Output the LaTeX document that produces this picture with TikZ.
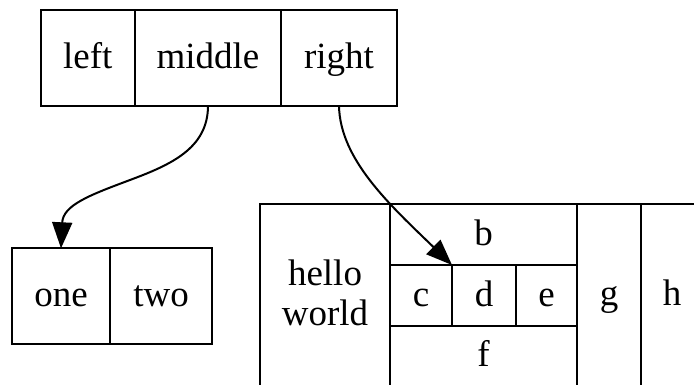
\documentclass[tikz,border=0pt]{standalone}
\usepackage{fontspec}
\setmainfont{Liberation Serif}
\usetikzlibrary{arrows.meta}
\tikzset{
  cell/.style={draw=black, line width=2pt, rectangle, inner sep=0pt, outer sep=0pt,
    font=\fontsize{37}{40}\selectfont, align=center, text height=29.6pt, text depth=8.4pt},
  link/.style={draw=black, line width=2pt, -{Triangle[length=26pt,width=20pt]}}
}
\begin{document}
\begin{tikzpicture}[x=1pt,y=-1pt]
\clip (0,0) rectangle (694,385);
% top record
\node[cell, minimum width=93.7pt, minimum height=96pt] (left) at (87.85,57.7) {left};
\node[cell, minimum width=146.6pt, minimum height=96pt] (middle) at (208,57.7) {middle};
\node[cell, minimum width=115.4pt, minimum height=96pt] (right) at (339,57.7) {right};
% bottom-left record
\node[cell, minimum width=98pt, minimum height=96pt] (one) at (61,296.3) {one};
\node[cell, minimum width=102pt, minimum height=96pt] (two) at (161,296.3) {two};
% right record
\node[cell, minimum width=130pt, minimum height=182pt, text height=70pt, text depth=10pt] (hello) at (325,295) {hello\\world};
\node[cell, minimum width=187pt, minimum height=61pt] (b) at (483.5,234.5) {b};
\node[cell, minimum width=62pt, minimum height=61pt] (c) at (421,295.5) {c};
\node[cell, minimum width=64pt, minimum height=61pt] (d) at (484,295.5) {d};
\node[cell, minimum width=61pt, minimum height=61pt] (e) at (546.5,295.5) {e};
\node[cell, minimum width=187pt, minimum height=60pt] (f) at (483.5,356) {f};
\node[cell, minimum width=64pt, minimum height=182pt] (g) at (609,295) {g};
\node[cell, minimum width=62pt, minimum height=182pt] (h) at (672,295) {h};
% edges
\draw[link] (middle.south) .. controls +(0,43) and (170,165) .. (130,180)
  .. controls (90,195) and (63,205) .. (one.north);
\draw[link] (right.south) .. controls +(1,54) and (390,205) .. (d.north west);
\end{tikzpicture}
\end{document}
